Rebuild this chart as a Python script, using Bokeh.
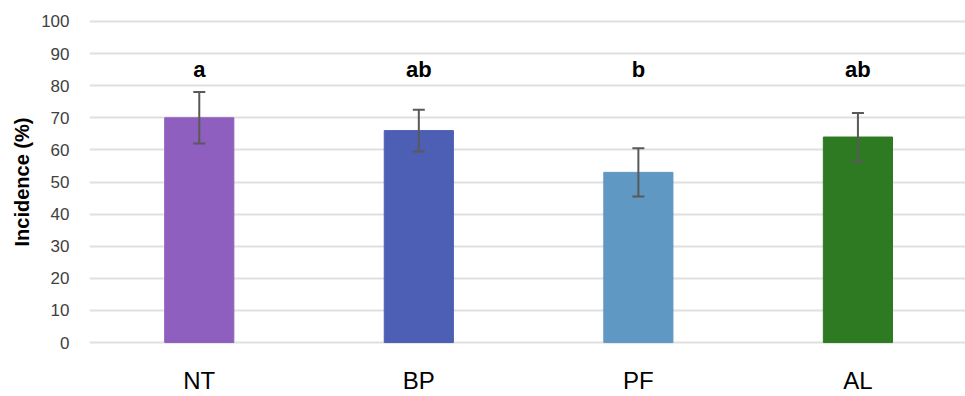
from bokeh.plotting import figure
from bokeh.models import ColumnDataSource, Whisker, FixedTicker, Range1d
from bokeh.core.properties import value
from bokeh.embed import file_html
from bokeh.resources import INLINE

categories = ["NT", "BP", "PF", "AL"]
incidence = [70, 66, 53, 64]
errors = [8, 6.5, 7.5, 7.5]
letters = ["a", "ab", "b", "ab"]
colors = ["#8F5FC0", "#4C5FB5", "#5F98C2", "#2E7A22"]
y_ticks = list(range(0, 101, 10))

xs = list(range(len(categories)))
src = ColumnDataSource(dict(
    x=xs, top=incidence, color=colors,
    upper=[v + e for v, e in zip(incidence, errors)],
    lower=[v - e for v, e in zip(incidence, errors)],
    label=letters, ly=[85.0] * len(categories),
))

p = figure(width=965, height=396, output_backend="svg", toolbar_location=None,
           x_range=Range1d(-0.5, 3.49), y_range=Range1d(-0.6, 100.6),
           min_border_left=89, min_border_right=0, min_border_top=19, min_border_bottom=50)
p.outline_line_color = None
p.background_fill_color = "white"
p.border_fill_color = "white"

p.vbar(x="x", top="top", width=0.315, bottom=0, color="color", source=src)
w = Whisker(base="x", upper="upper", lower="lower", source=src,
            line_color="#595959", line_width=2, level="overlay")
for h in (w.upper_head, w.lower_head):
    h.size = 12
    h.line_color = "#595959"
    h.line_width = 2
p.add_layout(w)

p.text(x="x", y="ly", text="label", source=src, text_align="center",
       text_baseline="alphabetic", text_font=value("Liberation Sans"),
       text_font_style="bold", text_font_size="22px", text_color="#000000")

p.yaxis.ticker = FixedTicker(ticks=y_ticks)
p.yaxis.axis_line_color = None
p.yaxis.major_tick_line_color = None
p.yaxis.minor_tick_line_color = None
p.yaxis.major_tick_out = 0
p.yaxis.major_tick_in = 0
p.yaxis.major_label_standoff = 20
p.yaxis.major_label_text_font = "Liberation Sans"
p.yaxis.major_label_text_font_size = "17px"
p.yaxis.major_label_text_color = "#404040"
p.yaxis.axis_label = "Incidence (%)"
p.yaxis.axis_label_text_font = "Liberation Sans"
p.yaxis.axis_label_text_font_style = "bold"
p.yaxis.axis_label_text_font_size = "20px"
p.yaxis.axis_label_text_color = "#000000"
p.yaxis.axis_label_standoff = 5

p.xaxis.ticker = FixedTicker(ticks=xs)
p.xaxis.major_label_overrides = {i: c for i, c in zip(xs, categories)}
p.xaxis.axis_line_color = None
p.xaxis.major_tick_line_color = None
p.xaxis.minor_tick_line_color = None
p.xaxis.major_tick_out = 0
p.xaxis.major_tick_in = 0
p.xaxis.major_label_standoff = 22
p.xaxis.major_label_text_font = "Liberation Sans"
p.xaxis.major_label_text_font_size = "24px"
p.xaxis.major_label_text_color = "#000000"

p.xgrid.grid_line_color = None
p.ygrid.ticker = FixedTicker(ticks=y_ticks)
p.ygrid.grid_line_color = "#E0E0E0"
p.ygrid.grid_line_width = 2

open("out.html", "w").write(file_html(p, INLINE))
